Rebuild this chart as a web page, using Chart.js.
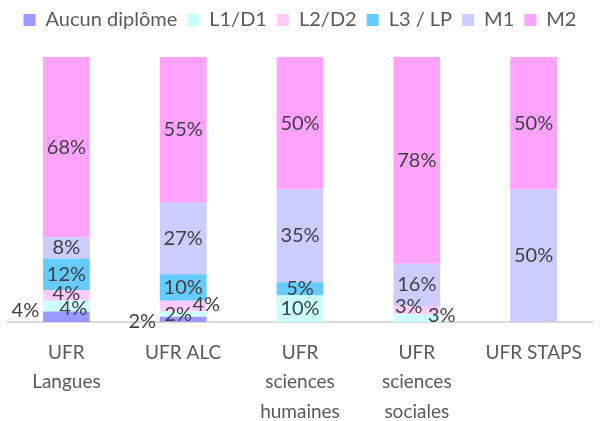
<!DOCTYPE html>
<html>
<head>
<meta charset="utf-8">
<script src="https://cdn.jsdelivr.net/npm/chart.js@4/dist/chart.umd.min.js"></script>
<style>
  html, body { margin: 0; padding: 0; background: #fff; }
  #wrap { width: 600px; height: 421px; }
</style>
</head>
<body>
<div id="wrap"><canvas id="chart" width="600" height="421"></canvas></div>
<script>
const ufr = [["UFR", "Langues"], "UFR ALC", ["UFR", "sciences", "humaines"], ["UFR", "sciences", "sociales"], "UFR STAPS"];
const seriesNames = ["Aucun diplôme", "L1/D1", "L2/D2", "L3 / LP", "M1", "M2"];
const aucun = [4, 2, 0, 0, 0];
const l1 = [4, 2, 10, 3, 0];
const l2 = [4, 4, 0, 3, 0];
const l3 = [12, 10, 5, 0, 0];
const m1 = [8, 27, 35, 16, 50];
const m2 = [68, 55, 50, 78, 50];

const colors = ["#9999FF", "#CCFFFF", "#FFCCFF", "#66CCFF", "#CCCCFF", "#FFA3FF"];
// label nudges for the small segments, [dataset][category] -> [dx, dy]
const nudges = {
  "0,0": [-41, -6], "1,0": [7, 2], "2,0": [0, -2],
  "0,1": [-41, 2], "1,1": [-5, 0], "2,1": [23, -2],
  "1,3": [25, -2], "2,3": [-8, -4]
};

const font = "Lato, 'Open Sans', sans-serif";

const labelPlugin = {
  id: "segLabels",
  afterDatasetsDraw(chart) {
    const ctx = chart.ctx;
    ctx.save();
    ctx.font = "20px " + font;
    ctx.fillStyle = "#404040";
    ctx.textAlign = "center";
    ctx.textBaseline = "middle";
    chart.data.datasets.forEach((ds, di) => {
      chart.getDatasetMeta(di).data.forEach((bar, i) => {
        const v = ds.data[i];
        if (!v) return;
        const off = nudges[di + "," + i] || [0, 0];
        const y = (bar.y + bar.base) / 2;
        ctx.fillText(v + "%", bar.x + off[0], y + off[1]);
      });
    });
    ctx.restore();
  }
};

// extra room under the legend
const legendGap = {
  id: "legendGap",
  beforeInit(chart) {
    const fit = chart.legend.fit;
    chart.legend.fit = function () {
      fit.bind(chart.legend)();
      this.height += 17;
    };
  }
};

const values = [aucun, l1, l2, l3, m1, m2];

new Chart("chart", {
  type: "bar",
  data: {
    labels: ufr,
    datasets: seriesNames.map((name, k) => ({
      label: name,
      data: values[k],
      backgroundColor: colors[k],
      borderWidth: 0,
      categoryPercentage: 1,
      barPercentage: 0.4
    }))
  },
  plugins: [labelPlugin, legendGap],
  options: {
    responsive: false,
    animation: false,
    layout: { padding: { left: 8, right: 8, top: 0, bottom: 0 } },
    plugins: {
      legend: {
        position: "top",
        labels: {
          boxWidth: 12,
          boxHeight: 12,
          padding: 10,
          color: "#595959",
          font: { family: font, size: 20 }
        }
      },
      tooltip: { enabled: false }
    },
    scales: {
      x: {
        stacked: true,
        grid: { display: false, drawTicks: false },
        border: { color: "#D9D9D9", width: 2 },
        ticks: { color: "#595959", font: { family: font, size: 19, lineHeight: 1.55 }, padding: 16, maxRotation: 0, autoSkip: false },
        afterFit(scale) { scale.height = 99; }
      },
      y: {
        stacked: true,
        display: false,
        min: 0,
        max: 100
      }
    }
  }
});
</script>
</body>
</html>
